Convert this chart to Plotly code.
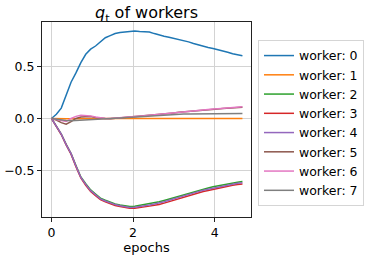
import plotly.graph_objects as go

epochs = [0.00, 0.12, 0.24, 0.36, 0.48, 0.60, 0.72, 0.84, 0.96, 1.08,
          1.20, 1.32, 1.44, 1.56, 1.68, 1.80, 1.92, 2.04, 2.16, 2.28,
          2.40, 2.52, 2.64, 2.76, 2.88, 3.00, 3.12, 3.24, 3.36, 3.48,
          3.60, 3.72, 3.84, 3.96, 4.08, 4.20, 4.32, 4.44, 4.56, 4.68]

worker_0 = [0.0, 0.04, 0.10, 0.22, 0.35, 0.44, 0.54, 0.62, 0.67, 0.70,
            0.74, 0.78, 0.80, 0.82, 0.83, 0.835, 0.845, 0.845, 0.84, 0.84,
            0.835, 0.82, 0.805, 0.795, 0.785, 0.775, 0.765, 0.75, 0.74, 0.725,
            0.71, 0.70, 0.685, 0.675, 0.665, 0.65, 0.64, 0.625, 0.615, 0.605]

worker_1 = [0.0, -0.003, -0.003, -0.002, -0.002, -0.001, -0.001, 0.0, 0.0, 0.0,
            0.0, 0.0, 0.0, 0.0, 0.0, 0.0, 0.0, 0.0, 0.0, 0.0,
            0.0, 0.0, 0.0, 0.0, 0.0, 0.0, 0.0, 0.0, 0.0, 0.0,
            0.0, 0.0, 0.0, 0.0, 0.0, 0.0, 0.0, 0.0, 0.0, 0.0]

worker_2 = [0.0, -0.07, -0.15, -0.25, -0.34, -0.455, -0.565, -0.63, -0.69, -0.73,
            -0.77, -0.79, -0.81, -0.825, -0.835, -0.845, -0.85, -0.848, -0.84, -0.833,
            -0.823, -0.813, -0.805, -0.792, -0.778, -0.763, -0.75, -0.735, -0.72, -0.708,
            -0.695, -0.682, -0.671, -0.66, -0.65, -0.64, -0.63, -0.622, -0.616, -0.61]

worker_3 = [0.0, -0.075, -0.155, -0.255, -0.345, -0.465, -0.575, -0.645, -0.705, -0.745,
            -0.785, -0.805, -0.825, -0.84, -0.85, -0.862, -0.868, -0.868, -0.863, -0.857,
            -0.847, -0.838, -0.832, -0.818, -0.803, -0.788, -0.773, -0.758, -0.744, -0.733,
            -0.719, -0.705, -0.695, -0.684, -0.674, -0.664, -0.654, -0.645, -0.639, -0.633]

worker_4 = [0.0, -0.072, -0.152, -0.252, -0.34, -0.46, -0.57, -0.637, -0.697, -0.737,
            -0.777, -0.797, -0.817, -0.832, -0.843, -0.853, -0.86, -0.858, -0.852, -0.845,
            -0.835, -0.826, -0.818, -0.805, -0.79, -0.775, -0.761, -0.746, -0.732, -0.72,
            -0.707, -0.693, -0.683, -0.672, -0.662, -0.652, -0.642, -0.633, -0.627, -0.621]

worker_5 = [0.0, -0.015, -0.04, -0.055, -0.03, 0.0, 0.015, 0.02, 0.018, 0.01,
            0.003, 0.0, -0.002, 0.002, 0.005, 0.009, 0.012, 0.015, 0.019, 0.024,
            0.029, 0.034, 0.039, 0.044, 0.049, 0.054, 0.059, 0.064, 0.068, 0.072,
            0.076, 0.08, 0.084, 0.088, 0.092, 0.096, 0.1, 0.103, 0.106, 0.109]

worker_6 = [0.0, -0.01, -0.025, -0.03, 0.0, 0.02, 0.03, 0.03, 0.025, 0.015,
            0.005, 0.0, 0.0, 0.005, 0.008, 0.012, 0.015, 0.018, 0.022, 0.027,
            0.032, 0.037, 0.042, 0.047, 0.052, 0.057, 0.062, 0.067, 0.071, 0.075,
            0.079, 0.083, 0.087, 0.091, 0.095, 0.099, 0.103, 0.106, 0.109, 0.112]

worker_7 = [0.0, -0.008, -0.015, -0.02, -0.022, -0.02, -0.018, -0.015, -0.012, -0.01,
            -0.007, -0.004, -0.001, 0.002, 0.005, 0.008, 0.012, 0.016, 0.02, 0.024,
            0.028, 0.031, 0.034, 0.036, 0.038, 0.04, 0.041, 0.042, 0.043, 0.044,
            0.045, 0.045, 0.046, 0.046, 0.046, 0.047, 0.047, 0.047, 0.047, 0.047]

series = [worker_0, worker_1, worker_2, worker_3, worker_4, worker_5, worker_6, worker_7]
names = ["worker: %d" % i for i in range(8)]
colors = ["#1f77b4", "#ff7f0e", "#2ca02c", "#d62728",
          "#9467bd", "#8c564b", "#e377c2", "#7f7f7f"]

x_ticks = [0, 2, 4]
y_ticks = [-0.5, 0.0, 0.5]
y_tick_labels = ["\u22120.5", "0.0", "0.5"]

fig = go.Figure()
for name, vals, col in zip(names, series, colors):
    fig.add_trace(go.Scatter(x=epochs, y=vals, mode="lines", name=name,
                             line=dict(color=col, width=1.5)))

font_family = "DejaVu Sans"
fig.update_layout(
    width=374, height=256,
    margin=dict(l=42, r=123, t=22, b=39, autoexpand=False),
    paper_bgcolor="white", plot_bgcolor="white",
    font=dict(family=font_family, size=12.5, color="black"),
    title=dict(text="<i>q</i><sub>t</sub> of workers", x=0.5, xref="paper",
               xanchor="center", y=0.95, yref="container", yanchor="middle",
               font=dict(size=16, family=font_family, color="black")),
    showlegend=True,
    legend=dict(x=1.0335, xanchor="left", y=0.908, yanchor="top",
                xref="paper", yref="paper",
                bgcolor="white", bordercolor="#d5d5d5", borderwidth=1,
                font=dict(size=12.5, family=font_family, color="black"),
                tracegroupgap=0, itemwidth=30),
    xaxis=dict(range=[-0.232, 4.89], tickvals=x_ticks, ticktext=[str(t) for t in x_ticks],
               showgrid=True, gridcolor="#d3d3d3", gridwidth=1, zeroline=False,
               showline=True, linecolor="#222", linewidth=1, mirror=True,
               ticks="outside", ticklen=4, tickcolor="#222", automargin=False,
               tickfont=dict(size=12.5),
               title=dict(text="epochs", standoff=2, font=dict(size=13))),
    yaxis=dict(range=[-0.952, 0.932], tickvals=y_ticks, ticktext=y_tick_labels,
               showgrid=True, gridcolor="#d3d3d3", gridwidth=1, zeroline=False,
               showline=True, linecolor="#222", linewidth=1, mirror=True,
               ticks="outside", ticklen=4, tickcolor="#222", automargin=False,
               tickfont=dict(size=12.5)),
)

fig.write_html("out.html",
               config={"displayModeBar": False},
               post_script="document.body.style.margin='0';document.body.style.padding='0';")
